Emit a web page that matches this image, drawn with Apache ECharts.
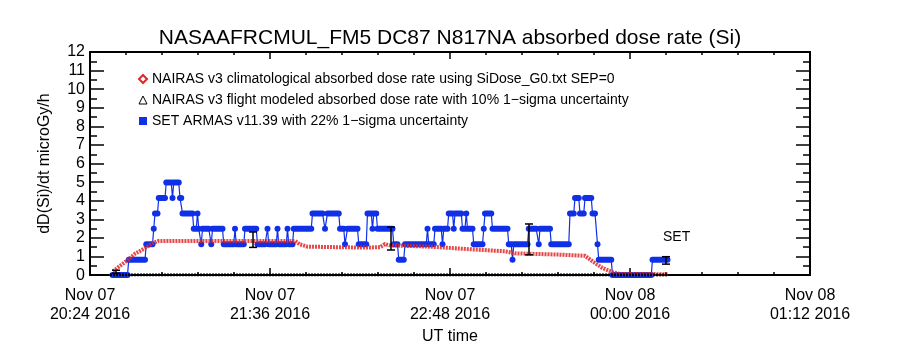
<!DOCTYPE html>
<html><head><meta charset="utf-8">
<script src="https://cdn.jsdelivr.net/npm/echarts@6/dist/echarts.min.js"></script>
<style>html,body{margin:0;padding:0;background:#fff}#c{width:900px;height:350px}</style>
</head><body><div id="c"></div>
<script>
const titleText = 'NASAAFRCMUL_FM5 DC87 N817NA absorbed dose rate (Si)';
const yAxisTitle = 'dD(Si)/dt microGy/h';
const xAxisTitle = 'UT time';
const yTickLabels = ['0','1','2','3','4','5','6','7','8','9','10','11','12'];
const xTickLabels = ['Nov 07\n20:24 2016','Nov 07\n21:36 2016','Nov 07\n22:48 2016','Nov 08\n00:00 2016','Nov 08\n01:12 2016'];
const seriesNames = [
  'NAIRAS v3 climatological absorbed dose rate using SiDose_G0.txt SEP=0',
  'NAIRAS v3 flight modeled absorbed dose rate with 10% 1\u2212sigma uncertainty',
  'SET ARMAS v11.39 with 22% 1\u2212sigma uncertainty'
];
// time in minutes after Nov 07 20:24 UT
const redT = [9.2, 12, 15, 18, 22, 25, 27.5, 82, 84, 87, 100, 110, 116, 118, 120, 136, 152, 166, 170, 188, 198, 201, 205, 209, 212, 231];
const redV = [0.2, 0.5, 0.8, 1.15, 1.45, 1.72, 1.84, 1.84, 1.65, 1.53, 1.5, 1.48, 1.5, 1.67, 1.6, 1.53, 1.39, 1.28, 1.17, 1.1, 1.04, 0.74, 0.38, 0.16, 0.06, 0.05];
const flightT = [8, 231];
const flightV = [0, 0];
// SET ARMAS runs: start, end (minutes) and dose rate level
const setStart = [9, 15.5, 22.5, 25.5, 26, 27.5, 30.5, 33, 33.5, 36, 37, 41.5, 43, 43.5, 44.5, 45, 48.5, 49, 53.5, 58, 58.5, 62, 67, 71, 71.5, 75, 75.5, 79, 79.5, 81.5, 89, 94, 95, 100, 102, 103, 107.5, 111, 113, 113.5, 115, 121.5, 123.5, 126, 135, 135.5, 138, 141, 141.5, 143.5, 145.5, 146, 149, 150.5, 151, 153.5, 157.5, 158, 161, 167.5, 169, 169.5, 175.5, 179.5, 180, 184.5, 192, 194, 196, 198, 201, 203, 203.5, 209, 225];
const setEnd   = [15, 22, 25, 25.5, 27, 30, 32.5, 33, 35.5, 36.5, 41, 42.5, 43, 43.5, 44.5, 47.5, 48.5, 53, 57.5, 58, 61.5, 66.5, 70, 71, 74.5, 75, 78.5, 79, 81, 88.5, 93, 94, 99.5, 101.5, 102, 107, 110.5, 112.5, 113, 114.5, 121, 123, 125.5, 134.5, 135, 137.5, 140.5, 141, 143, 145, 145.5, 148.5, 150, 150.5, 153, 157, 157.5, 160.5, 167, 168.5, 169, 175, 178.5, 179.5, 184, 191.5, 193.5, 195.5, 197.5, 200.5, 202, 203, 208.5, 224.5, 231];
const setLevel = [0, 0.83, 1.66, 2.49, 3.32, 4.15, 4.98, 4.15, 4.98, 4.15, 3.32, 2.49, 3.32, 2.49, 1.66, 2.49, 1.66, 2.49, 1.66, 2.49, 1.66, 2.49, 1.66, 2.49, 1.66, 2.49, 1.66, 2.49, 1.66, 2.49, 3.32, 2.49, 3.32, 2.49, 1.66, 2.49, 1.66, 3.32, 2.49, 3.32, 2.49, 1.66, 0.83, 1.66, 2.49, 1.66, 2.49, 1.66, 2.49, 3.32, 2.49, 3.32, 2.49, 3.32, 2.49, 1.66, 2.49, 3.32, 2.49, 1.66, 0.83, 1.66, 2.49, 1.66, 2.49, 1.66, 3.32, 4.15, 3.32, 4.15, 3.32, 1.66, 0.83, 0, 0.83];
// error bars
const errT = [10.4, 65.2, 120.4, 175.6, 230.4];
const errLow = [0.1, 1.49, 1.35, 1.09, 0.59];
const errHigh = [0.26, 2.32, 2.58, 2.75, 0.99];

const RED = '#e02828', BLUE = '#1030e8', FONT = 'Liberation Sans';

const setLineData = [];
setStart.forEach((s, i) => {
  setLineData.push([s, setLevel[i]]);
  if (setEnd[i] !== s) setLineData.push([setEnd[i], setLevel[i]]);
});

const chart = echarts.init(document.getElementById('c'), null, {renderer: 'canvas'});
const axisLine = {show: true, onZero: false, lineStyle: {color: '#000', width: 2}};
const tickStyle = {color: '#000', width: 1.5};
chart.setOption({
  animation: false,
  backgroundColor: '#fff',
  textStyle: {fontFamily: FONT, color: '#000'},
  title: {text: titleText, left: 'center', top: 23, textStyle: {fontFamily: FONT, fontSize: 21, fontWeight: 'normal', color: '#000'}},
  legend: {
    orient: 'vertical', left: 133, top: 67, itemWidth: 8, itemHeight: 8, itemGap: 7,
    textStyle: {fontFamily: FONT, fontSize: 14, lineHeight: 14, color: '#000'},
    data: [
      {name: seriesNames[0], icon: 'diamond', itemStyle: {color: '#fff', borderColor: RED, borderWidth: 2}},
      {name: seriesNames[1], icon: 'triangle', itemStyle: {color: '#fff', borderColor: '#000', borderWidth: 1}},
      {name: seriesNames[2], icon: 'rect', itemStyle: {color: BLUE}}
    ]
  },
  grid: {left: 90, right: 90, top: 52, bottom: 71},
  xAxis: [{
    type: 'value', min: 0, max: 288, interval: 72,
    name: xAxisTitle, nameLocation: 'middle', nameGap: 47,
    nameTextStyle: {fontFamily: FONT, fontSize: 16, color: '#000'},
    axisLine: axisLine,
    axisTick: {show: true, inside: true, length: 7, lineStyle: tickStyle},
    minorTick: {show: true, splitNumber: 5, length: 3, lineStyle: tickStyle},
    splitLine: {show: false},
    axisLabel: {fontFamily: FONT, fontSize: 16, lineHeight: 19, margin: 11, color: '#000',
      showMinLabel: true, showMaxLabel: true,
      formatter: v => xTickLabels[Math.round(v / 72)]}
  }, {
    type: 'value', min: 0, max: 288, interval: 72, position: 'top',
    axisLine: axisLine,
    axisTick: {show: true, inside: true, length: 7, lineStyle: tickStyle},
    minorTick: {show: true, splitNumber: 5, length: 3, lineStyle: tickStyle},
    splitLine: {show: false}, axisLabel: {show: false}
  }],
  yAxis: [{
    type: 'value', min: 0, max: 12, interval: 1,
    name: yAxisTitle, nameLocation: 'middle', nameGap: 37, nameRotate: 90,
    nameTextStyle: {fontFamily: FONT, fontSize: 16, color: '#000'},
    axisLine: axisLine,
    axisTick: {show: true, inside: true, length: 14, lineStyle: tickStyle},
    minorTick: {show: true, splitNumber: 2, length: 7, lineStyle: tickStyle},
    splitLine: {show: false},
    axisLabel: {fontFamily: FONT, fontSize: 16, margin: 5, color: '#000',
      showMinLabel: true, showMaxLabel: true, hideOverlap: false,
      formatter: v => yTickLabels[Math.round(v)]}
  }, {
    type: 'value', min: 0, max: 12, interval: 1, position: 'right',
    axisLine: axisLine,
    axisTick: {show: true, inside: true, length: 14, lineStyle: tickStyle},
    minorTick: {show: true, splitNumber: 2, length: 7, lineStyle: tickStyle},
    splitLine: {show: false}, axisLabel: {show: false}
  }],
  graphic: [{type: 'text', x: 663, y: 230, style: {text: 'SET', fontFamily: FONT, fontSize: 14, fill: '#000'}}],
  series: [
    {
      name: seriesNames[2], type: 'line', z: 2,
      data: setLineData, showSymbol: false, symbol: 'none',
      lineStyle: {color: BLUE, width: 1.2}, itemStyle: {color: BLUE}
    },
    {
      name: seriesNames[2], type: 'custom', z: 3,
      data: setStart.map((s, i) => [s, setEnd[i], setLevel[i]]),
      encode: {x: [0, 1], y: 2},
      itemStyle: {color: BLUE},
      renderItem: (params, api) => {
        const a = api.coord([api.value(0), api.value(2)]);
        const b = api.coord([api.value(1), api.value(2)]);
        return {type: 'rect', shape: {x: a[0] - 3, y: a[1] - 3, width: b[0] - a[0] + 6, height: 6, r: 3},
          style: {fill: BLUE}};
      }
    },
    {
      name: seriesNames[0], type: 'line', z: 4,
      data: redT.map((t, i) => [t, redV[i]]), showSymbol: false, symbol: 'none',
      lineStyle: {color: RED, width: 4, opacity: 0.85, type: [2, 1]}, itemStyle: {color: RED}
    },
    {
      name: seriesNames[1], type: 'line', z: 5,
      data: flightT.map((t, i) => [t, flightV[i]]), showSymbol: false, symbol: 'none',
      lineStyle: {color: '#000', width: 3, type: [2, 1]}, itemStyle: {color: '#000'}
    },
    {
      type: 'custom', z: 6,
      data: errT.map((t, i) => [t, errLow[i], errHigh[i]]),
      encode: {x: 0, y: [1, 2]},
      renderItem: (params, api) => {
        const lo = api.coord([api.value(0), api.value(1)]);
        const hi = api.coord([api.value(0), api.value(2)]);
        const st = {stroke: '#000', lineWidth: 1.5};
        return {type: 'group', children: [
          {type: 'line', shape: {x1: lo[0], y1: lo[1], x2: hi[0], y2: hi[1]}, style: st},
          {type: 'line', shape: {x1: lo[0] - 4, y1: lo[1], x2: lo[0] + 4, y2: lo[1]}, style: st},
          {type: 'line', shape: {x1: hi[0] - 4, y1: hi[1], x2: hi[0] + 4, y2: hi[1]}, style: st}
        ]};
      }
    }
  ]
});
</script>
</body></html>
